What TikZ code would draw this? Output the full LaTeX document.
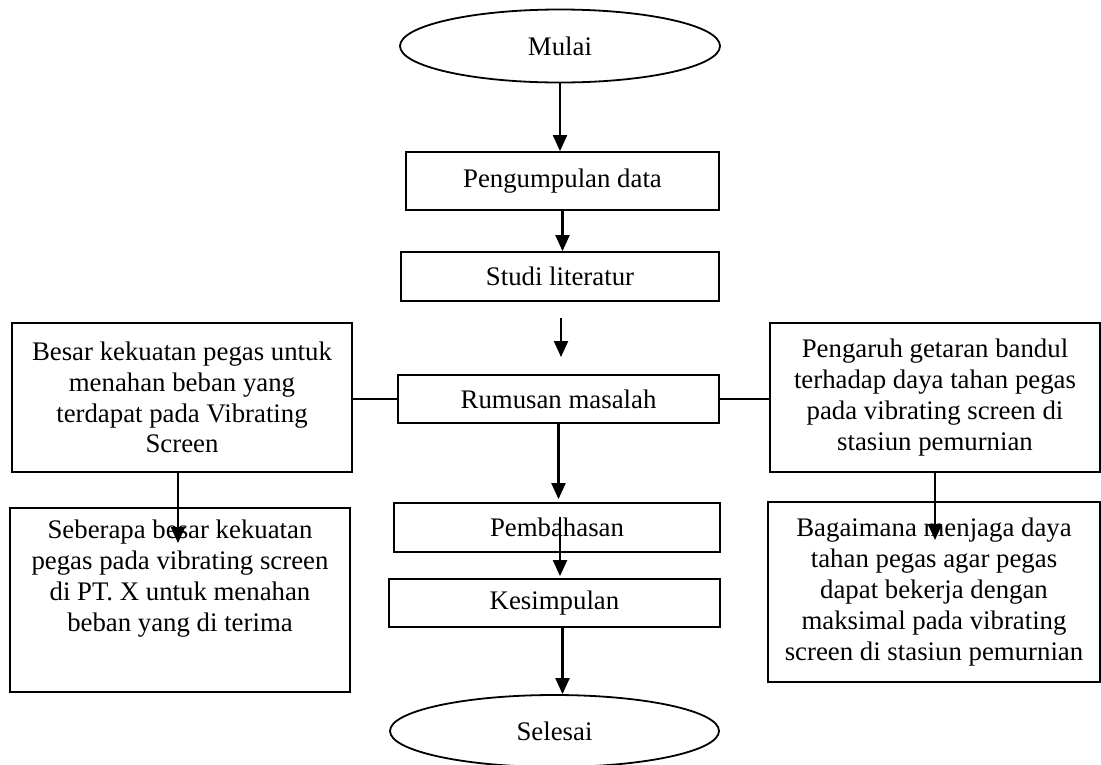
\documentclass[tikz,border=0pt]{standalone}
\usepackage{fontspec}
\setmainfont{Liberation Serif}
\usetikzlibrary{shapes.geometric,arrows.meta}

\begin{document}
\begin{tikzpicture}[x = 1pt, y = -1pt,
  box/.style  = {draw, line width=1.8pt, inner sep=0pt, align=center,
                 font=\fontsize{26.8}{30.8}\selectfont},
  term/.style = {box, ellipse},
  arr/.style  = {-{Triangle[width=14pt,length=16pt]}, line width=2.2pt},
  link/.style = {line width=1.8pt}]

  \useasboundingbox (0,0) rectangle (1101,764);

  % main column
  \node[term, minimum width=320, minimum height=73] (mulai) at (560,46) {Mulai};
  \node[box, minimum width=313, minimum height=58] (data) at (562.5,181) {Pengumpulan data};
  \node[box, minimum width=318, minimum height=49] (studi) at (560,276.5) {Studi literatur};
  \node[box, minimum width=321, minimum height=48] (rumusan) at (558.5,399) {Rumusan masalah};
  \node[box, minimum width=326, minimum height=49] (bahas) at (557,527.5) {Pembahasan};
  \node[box, minimum width=331, minimum height=48] (simpul) at (554.5,603) {Kesimpulan};
  \node[term, minimum width=329, minimum height=72] (selesai) at (554.5,731) {Selesai};

  % side boxes
  \node[box, minimum width=340, minimum height=149] (besar) at (182,397.5)
  {Besar kekuatan pegas untuk\\menahan beban yang\\terdapat pada Vibrating\\Screen};
  \node[box, minimum width=330, minimum height=149] (pengaruh) at (935,397.5)
  {Pengaruh getaran bandul\\terhadap daya tahan pegas\\pada vibrating screen di\\stasiun pemurnian};
  \node[box, minimum width=340, minimum height=184] (seberapa) at (180,600)
  {\parbox[c][184pt][t]{320pt}{\centering\vspace*{12pt}Seberapa besar kekuatan\\pegas pada vibrating screen\\di PT. X untuk menahan\\beban yang di terima}};
  \node[box, minimum width=332, minimum height=180] (bagaimana) at (934,592)
  {Bagaimana menjaga daya\\tahan pegas agar pegas\\dapat bekerja dengan\\maksimal pada vibrating\\screen di stasiun pemurnian};

  % free arrow ends
  \coordinate (gapA) at (561,318);
  \coordinate (gapB) at (561,357);
  \coordinate (bahasA) at (560,517);
  \coordinate (tipL) at (178,543);
  \coordinate (tipR) at (935,540);

  % arrows
  \draw[arr] (mulai.south) -- (mulai.south |- data.north);
  \draw[arr] (data.south) -- (data.south |- studi.north);
  \draw[arr] (gapA) -- (gapB);
  \draw[arr] (rumusan.south) -- ([yshift=3pt]bahas.north -| rumusan.south);
  \draw[arr] (bahasA) -- ([yshift=2pt]simpul.north -| bahasA);
  \draw[arr] (data.south |- simpul.south) -- (data.south |- selesai.north);
  \draw[arr] (besar.south -| tipL) -- (tipL);
  \draw[arr] (pengaruh.south) -- (tipR);

  % links
  \draw[link] (besar.east |- rumusan.west) -- (rumusan.west);
  \draw[link] (rumusan.east) -- (rumusan.east -| pengaruh.west);

\end{tikzpicture}
\end{document}
